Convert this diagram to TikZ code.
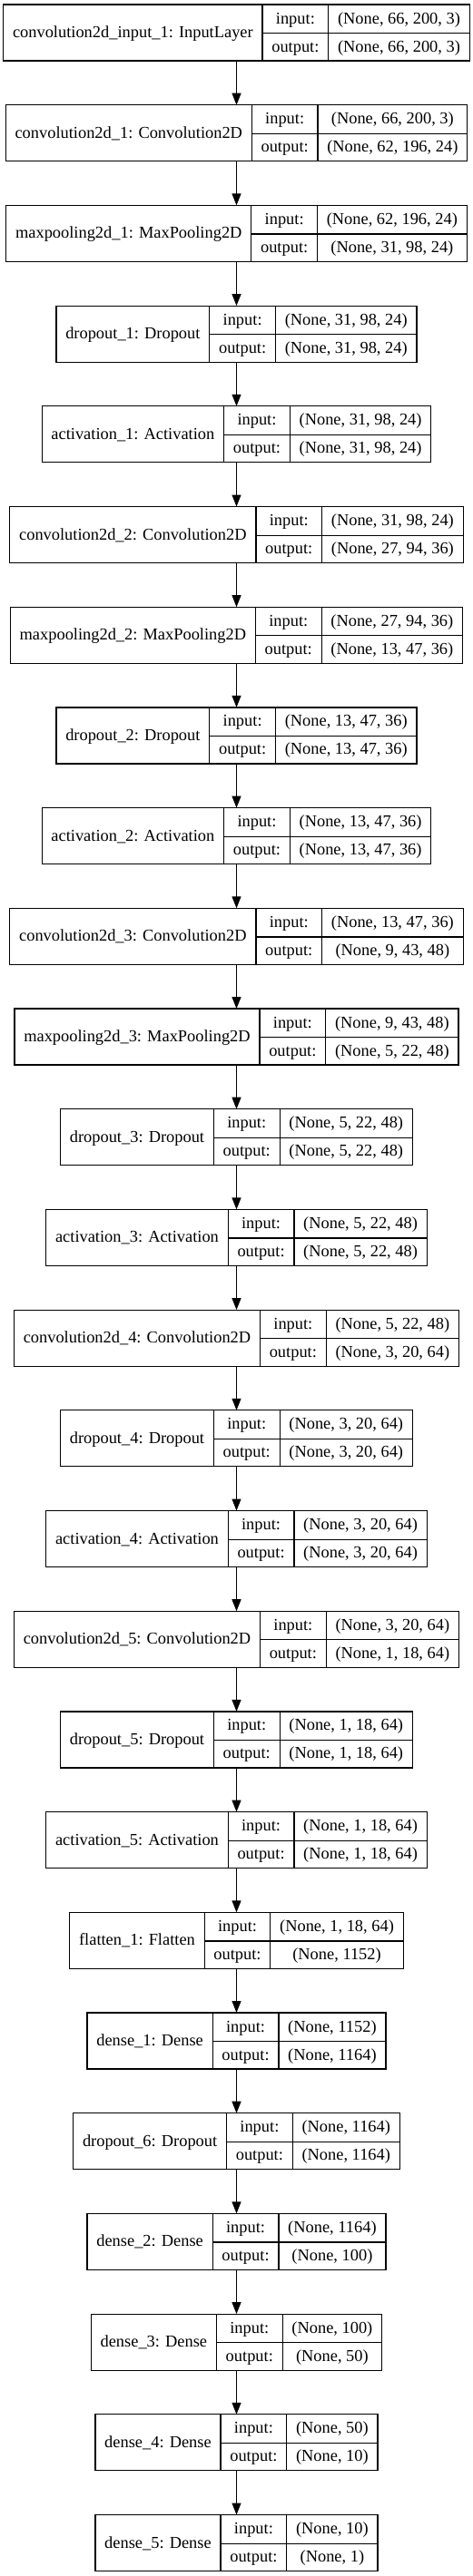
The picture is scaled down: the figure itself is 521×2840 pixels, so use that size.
\documentclass[tikz,border=0pt]{standalone}
\usepackage{fontspec}
\setmainfont{Liberation Serif}
\usepackage{tikz}
\usetikzlibrary{positioning}
\usetikzlibrary{arrows.meta}

\setlength{\tabcolsep}{10.3pt}
\setlength{\arrayrulewidth}{1.2pt}
\newcommand{\rowstrut}{\rule[-10pt]{0pt}{31pt}}
\newcommand{\layerbox}[3]{%
  \begin{tabular}{c|c|c}
    \raisebox{-15.5pt}[0pt][0pt]{#1} & input:\rowstrut & #2 \\ \cline{2-3}
    & output:\rowstrut & #3
  \end{tabular}}

\begin{document}
\begin{tikzpicture}[node distance=48.7pt,every node/.style={draw,line width=1.2pt,inner sep=0pt,outer sep=0pt,font=\fontsize{18.4pt}{22pt}\selectfont},flow/.style={line width=1.2pt,-{Triangle[length=13pt,width=10pt]}}]
  \useasboundingbox (0pt,0pt) rectangle (521pt,-2840pt);
  \node (input1) at (260.5pt,-36pt) {\layerbox{convolution2d\_input\_1: InputLayer}{(None, 66, 200, 3)}{(None, 66, 200, 3)}};
  \node[below=of input1] (conv1) {\layerbox{convolution2d\_1: Convolution2D}{(None, 66, 200, 3)}{(None, 62, 196, 24)}};
  \node[below=of conv1] (pool1) {\layerbox{maxpooling2d\_1: MaxPooling2D}{(None, 62, 196, 24)}{(None, 31, 98, 24)}};
  \node[below=of pool1] (drop1) {\layerbox{dropout\_1: Dropout}{(None, 31, 98, 24)}{(None, 31, 98, 24)}};
  \node[below=of drop1] (act1) {\layerbox{activation\_1: Activation}{(None, 31, 98, 24)}{(None, 31, 98, 24)}};

  \node[below=of act1] (conv2) {\layerbox{convolution2d\_2: Convolution2D}{(None, 31, 98, 24)}{(None, 27, 94, 36)}};
  \node[below=of conv2] (pool2) {\layerbox{maxpooling2d\_2: MaxPooling2D}{(None, 27, 94, 36)}{(None, 13, 47, 36)}};
  \node[below=of pool2] (drop2) {\layerbox{dropout\_2: Dropout}{(None, 13, 47, 36)}{(None, 13, 47, 36)}};
  \node[below=of drop2] (act2) {\layerbox{activation\_2: Activation}{(None, 13, 47, 36)}{(None, 13, 47, 36)}};

  \node[below=of act2] (conv3) {\layerbox{convolution2d\_3: Convolution2D}{(None, 13, 47, 36)}{(None, 9, 43, 48)}};
  \node[below=of conv3] (pool3) {\layerbox{maxpooling2d\_3: MaxPooling2D}{(None, 9, 43, 48)}{(None, 5, 22, 48)}};
  \node[below=of pool3] (drop3) {\layerbox{dropout\_3: Dropout}{(None, 5, 22, 48)}{(None, 5, 22, 48)}};
  \node[below=of drop3] (act3) {\layerbox{activation\_3: Activation}{(None, 5, 22, 48)}{(None, 5, 22, 48)}};

  \node[below=of act3] (conv4) {\layerbox{convolution2d\_4: Convolution2D}{(None, 5, 22, 48)}{(None, 3, 20, 64)}};
  \node[below=of conv4] (drop4) {\layerbox{dropout\_4: Dropout}{(None, 3, 20, 64)}{(None, 3, 20, 64)}};
  \node[below=of drop4] (act4) {\layerbox{activation\_4: Activation}{(None, 3, 20, 64)}{(None, 3, 20, 64)}};

  \node[below=of act4] (conv5) {\layerbox{convolution2d\_5: Convolution2D}{(None, 3, 20, 64)}{(None, 1, 18, 64)}};
  \node[below=of conv5] (drop5) {\layerbox{dropout\_5: Dropout}{(None, 1, 18, 64)}{(None, 1, 18, 64)}};
  \node[below=of drop5] (act5) {\layerbox{activation\_5: Activation}{(None, 1, 18, 64)}{(None, 1, 18, 64)}};

  \node[below=of act5] (flat1) {\layerbox{flatten\_1: Flatten}{(None, 1, 18, 64)}{(None, 1152)}};
  \node[below=of flat1] (dense1) {\layerbox{dense\_1: Dense}{(None, 1152)}{(None, 1164)}};
  \node[below=of dense1] (drop6) {\layerbox{dropout\_6: Dropout}{(None, 1164)}{(None, 1164)}};
  \node[below=of drop6] (dense2) {\layerbox{dense\_2: Dense}{(None, 1164)}{(None, 100)}};
  \node[below=of dense2] (dense3) {\layerbox{dense\_3: Dense}{(None, 100)}{(None, 50)}};
  \node[below=of dense3] (dense4) {\layerbox{dense\_4: Dense}{(None, 50)}{(None, 10)}};
  \node[below=of dense4] (dense5) {\layerbox{dense\_5: Dense}{(None, 10)}{(None, 1)}};

  \draw[flow](input1)--(conv1);
  \draw[flow](conv1)--(pool1);
  \draw[flow](pool1)--(drop1);
  \draw[flow](drop1)--(act1);
  \draw[flow](act1)--(conv2);
  \draw[flow](conv2)--(pool2);
  \draw[flow](pool2)--(drop2);
  \draw[flow](drop2)--(act2);
  \draw[flow](act2)--(conv3);
  \draw[flow](conv3)--(pool3);
  \draw[flow](pool3)--(drop3);
  \draw[flow](drop3)--(act3);
  \draw[flow](act3)--(conv4);
  \draw[flow](conv4)--(drop4);
  \draw[flow](drop4)--(act4);
  \draw[flow](act4)--(conv5);
  \draw[flow](conv5)--(drop5);
  \draw[flow](drop5)--(act5);
  \draw[flow](act5)--(flat1);
  \draw[flow](flat1)--(dense1);
  \draw[flow](dense1)--(drop6);
  \draw[flow](drop6)--(dense2);
  \draw[flow](dense2)--(dense3);
  \draw[flow](dense3)--(dense4);
  \draw[flow](dense4)--(dense5);
\end{tikzpicture}
\end{document}
